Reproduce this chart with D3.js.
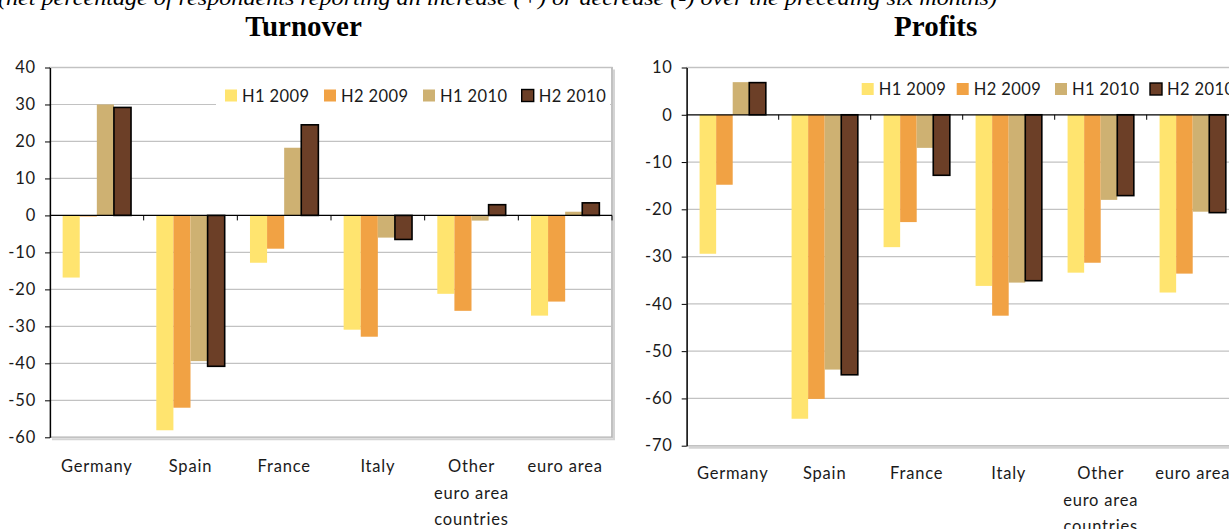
<!DOCTYPE html>
<html>
<head>
<meta charset="utf-8">
<script src="https://cdn.jsdelivr.net/npm/d3@7"></script>
<style>
  html, body { margin: 0; padding: 0; background: #fff; }
  svg { display: block; }
  text { font-family: Lato, "Open Sans", sans-serif; }
</style>
</head>
<body>
<svg id="chart" width="1229" height="529"></svg>
<script>
// ---------- data ----------
const categories = ["Germany", "Spain", "France", "Italy", "Other euro area countries", "euro area"];
const categoryLines = [["Germany"], ["Spain"], ["France"], ["Italy"], ["Other", "euro area", "countries"], ["euro area"]];
const seriesNames = ["H1 2009", "H2 2009", "H1 2010", "H2 2010"];

const turnoverH1_2009 = [-16.8, -58.1, -12.8, -30.9, -21.2, -27.1];
const turnoverH2_2009 = [-0.3, -52.0, -9.0, -32.8, -25.8, -23.3];
const turnoverH1_2010 = [30.0, -39.4, 18.3, -6.0, -1.4, 1.0];
const turnoverH2_2010 = [29.2, -40.8, 24.5, -6.5, 2.9, 3.4];

const profitsH1_2009 = [-29.4, -64.3, -28.0, -36.2, -33.4, -37.6];
const profitsH2_2009 = [-14.8, -60.1, -22.7, -42.5, -31.3, -33.6];
const profitsH1_2010 = [6.9, -53.9, -7.0, -35.5, -18.0, -20.5];
const profitsH2_2010 = [6.8, -55.0, -12.8, -35.1, -17.1, -20.7];

const turnoverTicks = [40, 30, 20, 10, 0, -10, -20, -30, -40, -50, -60];
const profitsTicks = [10, 0, -10, -20, -30, -40, -50, -60, -70];

const subtitle = "(net percentage of respondents reporting an increase (+) or decrease (-) over the preceding six months)";
// ---------- styles ----------
const colors = ["#FFE46F", "#F1A244", "#CEB172", "#6C3F27"];

const svg = d3.select("#chart");

svg.append("text")
  .attr("x", -2).attr("y", 4.5)
  .attr("textLength", 999).attr("lengthAdjust", "spacingAndGlyphs")
  .style("font-family", "'Liberation Serif', 'Times New Roman', serif")
  .style("font-style", "italic")
  .style("font-size", "22px")
  .text(subtitle);

function drawChart(cfg) {
  const g = svg.append("g");
  const x = d3.scaleBand().domain(categories).range([cfg.x0, cfg.x1])
    .paddingInner(cfg.pad).paddingOuter(cfg.pad / 2);
  const xs = d3.scaleBand().domain(seriesNames).range([0, x.bandwidth()]);
  const y = d3.scaleLinear().domain(cfg.domain).range([cfg.yBot, cfg.yTop]);

  // title
  g.append("text")
    .attr("x", cfg.titleX).attr("y", 36)
    .attr("text-anchor", "middle")
    .style("font-family", "'Liberation Serif', 'Times New Roman', serif")
    .style("font-weight", "bold")
    .style("font-size", "29px")
    .text(cfg.title);

  // plot frame shadow
  g.append("path")
    .attr("d", `M${cfg.x1 + 2},${cfg.yTop + 2}V${cfg.yBot + 2}H${cfg.x0 + 2}`)
    .attr("fill", "none").attr("stroke", "#d4d4d4").attr("stroke-width", 2);
  g.append("rect")
    .attr("x", cfg.x0).attr("y", cfg.yTop)
    .attr("width", cfg.x1 - cfg.x0).attr("height", cfg.yBot - cfg.yTop)
    .attr("fill", "#fff").attr("stroke", "#a0a0a0").attr("stroke-width", 1.3);

  // gridlines
  g.append("g").selectAll("line")
    .data(cfg.ticks.filter(t => t !== 0))
    .join("line")
    .attr("x1", cfg.x0).attr("x2", cfg.x1)
    .attr("y1", d => y(d)).attr("y2", d => y(d))
    .attr("stroke", "#c2c2c2").attr("stroke-width", 1.2);

  // legend background (covers gridlines)
  g.append("rect")
    .attr("x", cfg.legendBox[0]).attr("y", cfg.legendBox[1])
    .attr("width", cfg.legendBox[2]).attr("height", cfg.legendBox[3])
    .attr("fill", "#fff");

  // bars
  const groups = g.append("g").selectAll("g")
    .data(categories)
    .join("g")
    .attr("transform", d => `translate(${x(d)},0)`);
  groups.selectAll("rect")
    .data((d, i) => seriesNames.map((s, j) => ({ s, j, v: cfg.series[j][i] })))
    .join("rect")
    .attr("x", d => xs(d.s))
    .attr("width", xs.bandwidth())
    .attr("y", d => y(Math.max(0, d.v)))
    .attr("height", d => Math.abs(y(d.v) - y(0)))
    .attr("fill", d => colors[d.j])
    .attr("stroke", d => d.j === 3 ? "#000" : "none")
    .attr("stroke-width", 1.6);

  // zero line + category ticks
  g.append("line")
    .attr("x1", cfg.x0).attr("x2", cfg.x1)
    .attr("y1", y(0)).attr("y2", y(0))
    .attr("stroke", "#000").attr("stroke-width", 1.3);
  const bounds = categories.map(c => x(c) - x.paddingOuter() * x.step());
  bounds.push(cfg.x1);
  g.append("g").selectAll("line")
    .data(bounds.slice(1))
    .join("line")
    .attr("x1", d => d).attr("x2", d => d)
    .attr("y1", y(0)).attr("y2", y(0) + 5)
    .attr("stroke", "#000").attr("stroke-width", 1);

  // y axis
  const ax = g.append("g")
    .attr("transform", `translate(${cfg.x0},0)`)
    .call(d3.axisLeft(y).tickValues(cfg.ticks).tickFormat(d => String(d))
      .tickSize(5).tickSizeOuter(0).tickPadding(9));
  ax.select(".domain").attr("stroke", "#000").attr("stroke-width", 1.3);
  ax.selectAll(".tick line").attr("stroke", "#000");
  ax.selectAll(".tick text")
    .style("font-family", "Lato, sans-serif")
    .style("font-size", "16.5px")
    .style("letter-spacing", "0.8px")
    .attr("fill", "#1a1a1a");

  // category labels
  const lab = g.append("g").selectAll("text")
    .data(categories)
    .join("text")
    .attr("x", d => x(d) + x.bandwidth() / 2)
    .attr("y", cfg.labelY)
    .attr("text-anchor", "middle")
    .style("font-size", "16.5px")
    .style("letter-spacing", "0.8px")
    .attr("fill", "#1a1a1a");
  lab.selectAll("tspan")
    .data((d, i) => categoryLines[i])
    .join("tspan")
    .attr("x", function () { return d3.select(this.parentNode).attr("x"); })
    .attr("dy", (d, i) => i === 0 ? 0 : 26.5)
    .text(d => d);

  // legend
  const leg = g.append("g").selectAll("g")
    .data(seriesNames)
    .join("g")
    .attr("transform", (d, i) => `translate(${cfg.legendX[i]},${cfg.legendY})`);
  leg.append("rect")
    .attr("x", 0).attr("y", -6).attr("width", 12).attr("height", 12)
    .attr("fill", (d, i) => colors[i])
    .attr("stroke", (d, i) => i === 3 ? "#000" : "none")
    .attr("stroke-width", 1.4);
  leg.append("text")
    .attr("x", 17).attr("y", 6)
    .style("font-size", "16.5px")
    .style("letter-spacing", "0.4px")
    .attr("fill", "#1a1a1a")
    .text(d => d);
}

drawChart({
  title: "Turnover", titleX: 303.5,
  x0: 50, x1: 612, yTop: 67.5, yBot: 437.3,
  domain: [-60, 40], ticks: turnoverTicks, pad: 0.27,
  series: [turnoverH1_2009, turnoverH2_2009, turnoverH1_2010, turnoverH2_2010],
  legendBox: [216, 73, 394, 44],
  legendX: [225, 324, 423, 521.7], legendY: 95.5,
  labelY: 472
});

drawChart({
  title: "Profits", titleX: 935.7,
  x0: 686.7, x1: 1238.7, yTop: 67.5, yBot: 445.7,
  domain: [-70, 10], ticks: profitsTicks, pad: 0.28,
  series: [profitsH1_2009, profitsH2_2009, profitsH1_2010, profitsH2_2010],
  legendBox: [850, 73, 386, 36],
  legendX: [861.7, 956.7, 1055, 1150], legendY: 89,
  labelY: 479
});
</script>
</body>
</html>
